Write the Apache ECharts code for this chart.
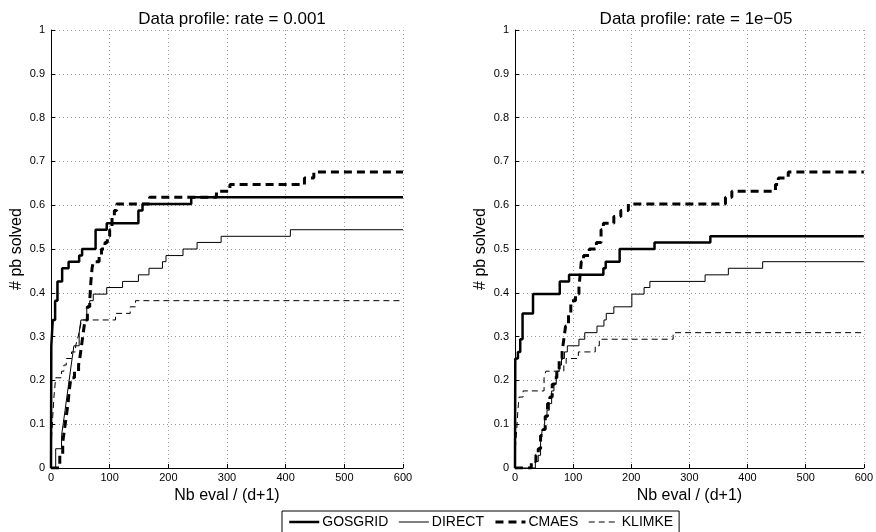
<!DOCTYPE html>
<html>
<head>
<meta charset="utf-8">
<title>Data profiles</title>
<script src="https://cdn.jsdelivr.net/npm/echarts@6/dist/echarts.min.js"></script>
<style>
  html, body { margin: 0; padding: 0; background: #fff; }
  #chart { width: 876px; height: 532px; }
</style>
</head>
<body>
<div id="chart"></div>
<script>
// solvers, in legend order
const solvers = ['GOSGRID', 'DIRECT', 'CMAES', 'KLIMKE']
const panelTitles = ['Data profile: rate = 0.001', 'Data profile: rate = 1e\u221205']

// rate = 0.001 (left panel): x = Nb eval / (d+1), y = fraction solved
const gosgridX1 = [0, 0.5, 3, 7, 11, 19, 30, 48, 53, 76, 95, 149, 156, 239, 600]
const gosgridY1 = [0, 0.279, 0.338, 0.382, 0.426, 0.456, 0.471, 0.485, 0.5, 0.544, 0.559, 0.588, 0.603, 0.618, 0.618]
const directX1 = [0, 8, 18, 21, 24, 27, 30, 33, 36, 39, 48, 51, 61, 66, 72, 95, 122, 149, 167, 190, 196, 225, 249, 290, 408, 600]
const directY1 = [0, 0.044, 0.074, 0.103, 0.132, 0.162, 0.191, 0.221, 0.25, 0.279, 0.309, 0.338, 0.368, 0.382, 0.397, 0.412, 0.426, 0.441, 0.456, 0.471, 0.485, 0.5, 0.515, 0.529, 0.544, 0.544]
const cmaesX1 = [0, 15, 20, 23, 26, 29, 31, 34, 40, 47, 49, 52, 55, 58, 62, 66, 68, 70, 72, 82, 86, 92, 96, 100, 104, 108, 112, 168, 282, 305, 432, 448, 600]
const cmaesY1 = [0, 0.029, 0.059, 0.088, 0.118, 0.147, 0.176, 0.206, 0.221, 0.235, 0.25, 0.279, 0.309, 0.338, 0.368, 0.382, 0.426, 0.456, 0.471, 0.485, 0.5, 0.515, 0.529, 0.544, 0.574, 0.588, 0.603, 0.618, 0.632, 0.647, 0.662, 0.676, 0.676]
const klimkeX1 = [0, 0.5, 3, 5, 8, 18, 22, 26, 35, 42, 45, 48, 50, 52, 110, 135, 144, 600]
const klimkeY1 = [0, 0.059, 0.118, 0.162, 0.206, 0.221, 0.235, 0.25, 0.265, 0.279, 0.294, 0.309, 0.324, 0.338, 0.353, 0.368, 0.382, 0.382]

// rate = 1e-05 (right panel)
const gosgridX2 = [0, 0.5, 5, 9, 13, 31, 77, 93, 152, 156, 180, 240, 336, 600]
const gosgridY2 = [0, 0.25, 0.265, 0.294, 0.353, 0.397, 0.426, 0.441, 0.456, 0.471, 0.5, 0.515, 0.529, 0.529]
const directX2 = [0, 35, 40, 44, 47, 51, 55, 59, 63, 67, 71, 76, 80, 85, 90, 110, 120, 141, 153, 157, 170, 201, 222, 232, 327, 367, 426, 600]
const directY2 = [0, 0.015, 0.029, 0.059, 0.088, 0.118, 0.132, 0.147, 0.176, 0.191, 0.221, 0.235, 0.25, 0.265, 0.279, 0.294, 0.309, 0.324, 0.338, 0.353, 0.368, 0.397, 0.412, 0.426, 0.441, 0.456, 0.471, 0.471]
const cmaesX2 = [0, 28, 36, 40, 44, 48, 52, 56, 60, 64, 68, 72, 76, 81, 84, 87, 92, 96, 104, 110, 112, 114, 118, 128, 140, 148, 152, 170, 182, 195, 362, 373, 448, 453, 470, 600]
const cmaesY2 = [0, 0.015, 0.029, 0.044, 0.074, 0.088, 0.118, 0.147, 0.162, 0.191, 0.206, 0.221, 0.25, 0.265, 0.294, 0.324, 0.353, 0.382, 0.397, 0.412, 0.441, 0.471, 0.485, 0.5, 0.515, 0.544, 0.559, 0.574, 0.588, 0.603, 0.618, 0.632, 0.647, 0.662, 0.676, 0.676]
const klimkeX2 = [0, 0.5, 3, 5, 7, 14, 50, 53, 84, 88, 109, 138, 145, 272, 600]
const klimkeY2 = [0, 0.044, 0.088, 0.132, 0.162, 0.176, 0.206, 0.221, 0.235, 0.25, 0.265, 0.279, 0.294, 0.309, 0.309]

const xTicks = [0, 100, 200, 300, 400, 500, 600]
const yTicks = [0, 0.1, 0.2, 0.3, 0.4, 0.5, 0.6, 0.7, 0.8, 0.9, 1]

const FONT = "'Liberation Sans', Arial, sans-serif"

const zip = (xs, ys) => xs.map((x, i) => [x, ys[i]])

// line look of each solver
const looks = {
    GOSGRID: { width: 2.5, type: 'solid' },
    DIRECT: { width: 1, type: 'solid' },
    CMAES: { width: 3, type: [8, 5] },
    KLIMKE: { width: 1, type: [6, 4] },
}

const panels = [
    [zip(gosgridX1, gosgridY1), zip(directX1, directY1), zip(cmaesX1, cmaesY1), zip(klimkeX1, klimkeY1)],
    [zip(gosgridX2, gosgridY2), zip(directX2, directY2), zip(cmaesX2, cmaesY2), zip(klimkeX2, klimkeY2)],
]

const grids = [
    { left: 51, top: 30, width: 352, height: 438 },
    { left: 515, top: 30, width: 353, height: 438 },
]

const splitStyle = { show: true, lineStyle: { color: '#9a9a9a', width: 1, type: [1, 3] } }

const xAxes = grids.map((g, i) => ({
    type: 'value',
    gridIndex: i,
    min: xTicks[0],
    max: xTicks[xTicks.length - 1],
    interval: 100,
    name: 'Nb eval / (d+1)',
    nameLocation: 'middle',
    nameGap: 10,
    nameTextStyle: { color: '#000', fontSize: 16, fontFamily: FONT },
    axisLine: { lineStyle: { color: '#000', width: 1 } },
    axisTick: { inside: true, length: 4, lineStyle: { color: '#000' } },
    axisLabel: { color: '#000', fontSize: 11, fontFamily: FONT, margin: 4 },
    splitLine: splitStyle,
}))

const yAxes = grids.map((g, i) => ({
    type: 'value',
    gridIndex: i,
    min: yTicks[0],
    max: yTicks[yTicks.length - 1],
    interval: 0.1,
    name: '# pb solved',
    nameLocation: 'middle',
    nameGap: 26,
    nameTextStyle: { color: '#000', fontSize: 16, fontFamily: FONT },
    axisLine: { show: true, lineStyle: { color: '#000', width: 1 } },
    axisTick: { show: true, inside: true, length: 4, lineStyle: { color: '#000' } },
    axisLabel: { color: '#000', fontSize: 11, fontFamily: FONT, margin: 6 },
    splitLine: splitStyle,
}))

const series = []
panels.forEach((curves, p) => {
    curves.forEach((pts, k) => {
        const name = solvers[k]
        series.push({
            name: name,
            type: 'line',
            xAxisIndex: p,
            yAxisIndex: p,
            step: 'end',
            symbol: 'none',
            data: pts,
            lineStyle: { color: '#000', width: looks[name].width, type: looks[name].type },
            itemStyle: { color: '#000' },
            z: 3 + (3 - k),
        })
    })
})

// legend entries carry their own line sample style
const legendData = solvers.map(name => ({
    name: name,
    lineStyle: { color: '#000', width: looks[name].width, type: looks[name].type },
}))

const chart = echarts.init(document.getElementById('chart'), null, { renderer: 'canvas' })
chart.setOption({
    animation: false,
    backgroundColor: '#fff',
    title: [
        { text: panelTitles[0], left: 227, top: 6, textAlign: 'center',
          textStyle: { color: '#000', fontSize: 17, fontWeight: 'normal', fontFamily: FONT } },
        { text: panelTitles[1], left: 691, top: 6, textAlign: 'center',
          textStyle: { color: '#000', fontSize: 17, fontWeight: 'normal', fontFamily: FONT } },
    ],
    legend: {
        data: legendData,
        left: 282,
        top: 511,
        orient: 'horizontal',
        itemWidth: 30,
        itemHeight: 12,
        itemGap: 10,
        padding: [4, 6, 4, 6],
        borderColor: '#000',
        borderWidth: 1,
        borderRadius: 0,
        backgroundColor: '#fff',
        // hide the marker circle, keep only the line sample
        itemStyle: { opacity: 0 },
        textStyle: { color: '#000', fontSize: 14, fontFamily: FONT, padding: [0, 0, 0, -2] },
    },
    grid: grids,
    xAxis: xAxes,
    yAxis: yAxes,
    series: series,
})
</script>
</body>
</html>
